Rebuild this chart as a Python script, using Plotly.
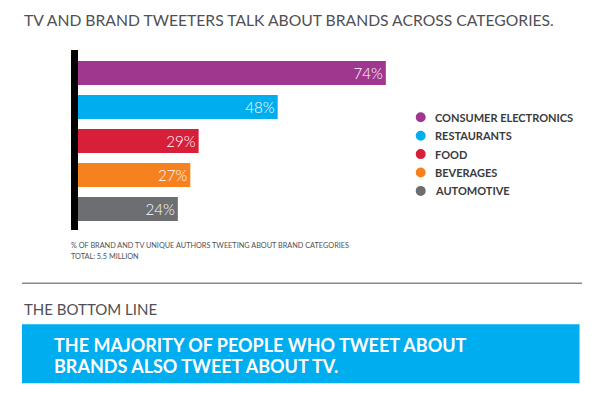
import plotly.graph_objects as go

# ---- data ----
categories = ["CONSUMER ELECTRONICS", "RESTAURANTS", "FOOD", "BEVERAGES", "AUTOMOTIVE"]
values = [74, 48, 29, 27, 24]
colors = ["#A0378F", "#00ADEE", "#D71F3A", "#F5821F", "#6D6E72"]

title_text = "TV AND BRAND TWEETERS TALK ABOUT BRANDS ACROSS CATEGORIES."
note_lines = ["% OF BRAND AND TV UNIQUE AUTHORS TWEETING ABOUT BRAND CATEGORIES",
              "TOTAL: 5.5 MILLION"]
bottom_head = "THE BOTTOM LINE"
bottom_text = ["THE MAJORITY OF PEOPLE WHO TWEET ABOUT", "BRANDS ALSO TWEET ABOUT TV."]

# ---- layout geometry (pixels) ----
W, H = 600, 396
L, R, T, B = 78, 202, 50, 166
PW, PH = W - L - R, H - T - B
PX_PER_PCT = 4.16
STEP = 34.0
FIRST_CENTER = 73.0

def px(x):
    return (x - L) / PW

def py(y):
    return (H - B - y) / PH

FONT = "Lato, 'Open Sans', sans-serif"

fig = go.Figure()
fig.add_trace(go.Bar(
    y=categories, x=values, orientation="h",
    marker=dict(color=colors, line=dict(width=0)),
    text=[f"{v}%" for v in values],
    textposition="inside", insidetextanchor="end",
    textfont=dict(color="white", size=16, family=FONT, weight=300),
    hoverinfo="skip", showlegend=False,
))

top_idx = -(FIRST_CENTER - T) / STEP
bot_idx = top_idx + PH / STEP

shapes = []
# black axis bar
shapes.append(dict(type="rect", xref="paper", yref="paper", xsizemode="pixel", xanchor=0,
                   x0=-7, x1=0, y0=0, y1=1, fillcolor="black", line=dict(width=0), layer="above"))
# legend dots
annotations = []
for i, (c, col) in enumerate(zip(categories, colors)):
    cy = 117.3 + i * 18.4
    shapes.append(dict(type="circle", xref="paper", yref="paper",
                       xsizemode="pixel", ysizemode="pixel",
                       xanchor=px(420.7), yanchor=py(cy),
                       x0=-5, x1=5, y0=-5, y1=5,
                       fillcolor=col, line=dict(width=0)))
    annotations.append(dict(text=c, xref="paper", yref="paper", x=px(432.5), y=py(cy),
                            xanchor="left", yanchor="middle", showarrow=False,
                            font=dict(size=11, color="#3a3a3c", family=FONT, weight="bold")))

# title
annotations.append(dict(text=title_text, xref="paper", yref="paper", x=px(22), y=py(20),
                        xanchor="left", yanchor="middle", showarrow=False,
                        font=dict(size=15.7, color="#505055", family=FONT)))
# footnotes
for j, t in enumerate(note_lines):
    annotations.append(dict(text=t, xref="paper", yref="paper", x=px(69), y=py(245 + j * 11.7),
                            xanchor="left", yanchor="middle", showarrow=False,
                            font=dict(size=7.3, color="#505055", family=FONT)))
# separator line
shapes.append(dict(type="line", xref="paper", yref="paper", x0=px(22), x1=px(582),
                   y0=py(283.3), y1=py(283.3), line=dict(color="#8a8a8e", width=1.5)))
# bottom heading
annotations.append(dict(text=bottom_head, xref="paper", yref="paper", x=px(22), y=py(309),
                        xanchor="left", yanchor="middle", showarrow=False,
                        font=dict(size=15, color="#505055", family=FONT)))
# blue box
shapes.append(dict(type="rect", xref="paper", yref="paper", x0=px(22), x1=px(579.5),
                   y0=py(324.3), y1=py(383.3), fillcolor="#00ADEE", line=dict(width=0)))
for j, t in enumerate(bottom_text):
    annotations.append(dict(text=t, xref="paper", yref="paper", x=px(51.5), y=py(345 + j * 20.5),
                            xanchor="left", yanchor="middle", showarrow=False,
                            font=dict(size=18, color="white", family=FONT, weight="bold")))

fig.update_layout(
    width=W, height=H, autosize=False,
    margin=dict(l=L, r=R, t=T, b=B, pad=0),
    paper_bgcolor="white", plot_bgcolor="white",
    bargap=10 / 34,
    xaxis=dict(range=[0, PW / PX_PER_PCT], visible=False, fixedrange=True),
    yaxis=dict(categoryorder="array", categoryarray=categories,
               range=[bot_idx, top_idx], visible=False, fixedrange=True),
    shapes=shapes, annotations=annotations,
    showlegend=False,
)

fig.write_html("out.html", config={"displayModeBar": False},
               post_script="document.body.style.margin='0';document.body.style.overflow='hidden';")
